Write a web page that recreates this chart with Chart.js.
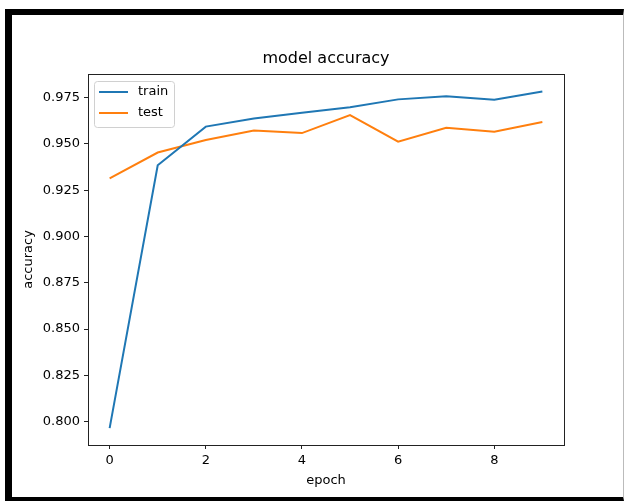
<!DOCTYPE html>
<html>
<head>
<meta charset="utf-8">
<script src="https://cdn.jsdelivr.net/npm/chart.js@4"></script>
<style>
    html, body { margin: 0; padding: 0; background: #fff; width: 625px; height: 501px; overflow: hidden; }
    #frame {
        position: absolute; left: 5px; top: 9px;
        width: 611px; height: 482px;
        border-left: 7px solid #000; border-top: 6px solid #000;
        border-bottom: 4px solid #000; border-right: 1px solid #bbb;
        background: #fff;
    }
    canvas { display: block; }
</style>
</head>
<body>
<div id="frame"><canvas id="chart" width="611" height="482"></canvas></div>
<script>
// values
const epochs = [0, 1, 2, 3, 4, 5, 6, 7, 8, 9];
const trainAcc = [0.7965, 0.9384, 0.9593, 0.9637, 0.9668, 0.9697, 0.9740, 0.9757, 0.9738, 0.9783];
const testAcc = [0.9314, 0.9453, 0.9521, 0.9572, 0.9558, 0.9655, 0.9512, 0.9587, 0.9565, 0.9618];
const xTicks = [0, 2, 4, 6, 8];
const yTicks = [0.800, 0.825, 0.850, 0.875, 0.900, 0.925, 0.950, 0.975];

const FONT = 'DejaVu Sans';

function toPoints(values) {
    return epochs.map((e, i) => ({ x: e, y: values[i] }));
}

// frame, title and legend, drawn like matplotlib does
const mplDecor = {
    id: 'mplDecor',
    afterDraw(chart) {
        const { ctx, chartArea: a } = chart;
        ctx.save();
        ctx.strokeStyle = '#222';
        ctx.lineWidth = 1;
        ctx.strokeRect(Math.round(a.left) + 0.5, Math.round(a.top) + 0.5,
            Math.round(a.right - a.left), Math.round(a.bottom - a.top));

        ctx.fillStyle = '#000';
        ctx.font = '16px "' + FONT + '"';
        ctx.textAlign = 'center';
        ctx.textBaseline = 'alphabetic';
        ctx.fillText('model accuracy', (a.left + a.right) / 2, a.top - 11);

        // legend box
        const bx = a.left + 6, by = a.top + 7, bw = 80, bh = 46;
        ctx.beginPath();
        ctx.roundRect(bx + 0.5, by + 0.5, bw, bh, 3);
        ctx.fillStyle = 'rgba(255,255,255,0.8)';
        ctx.fill();
        ctx.strokeStyle = '#d0d0d0';
        ctx.stroke();

        ctx.font = '13px "' + FONT + '"';
        ctx.textAlign = 'left';
        ctx.textBaseline = 'middle';
        chart.data.datasets.forEach((ds, i) => {
            const y = by + 11 + i * 21;
            ctx.beginPath();
            ctx.moveTo(bx + 5, y);
            ctx.lineTo(bx + 34, y);
            ctx.strokeStyle = ds.borderColor;
            ctx.lineWidth = 2;
            ctx.stroke();
            ctx.fillStyle = '#000';
            ctx.fillText(ds.label, bx + 44, y);
        });
        ctx.restore();
    }
};

new Chart(document.getElementById('chart'), {
    type: 'line',
    data: {
        datasets: [
            { label: 'train', data: toPoints(trainAcc), borderColor: '#1f77b4', borderWidth: 2, pointRadius: 0, tension: 0, fill: false },
            { label: 'test', data: toPoints(testAcc), borderColor: '#ff7f0e', borderWidth: 2, pointRadius: 0, tension: 0, fill: false }
        ]
    },
    options: {
        responsive: false,
        animation: false,
        layout: { padding: { left: 0, top: 59, right: 59, bottom: 0 } },
        plugins: {
            legend: { display: false },
            title: { display: false },
            tooltip: { enabled: false }
        },
        scales: {
            x: {
                type: 'linear',
                min: -0.45,
                max: 9.45,
                afterBuildTicks: s => { s.ticks = xTicks.map(v => ({ value: v })); },
                afterFit: s => { s.height = 52; },
                ticks: { color: '#000', font: { family: FONT, size: 13 }, padding: 4, maxRotation: 0, autoSkip: false },
                grid: { drawOnChartArea: false, drawTicks: true, tickLength: 4, color: '#222' },
                border: { display: false },
                title: { display: true, text: 'epoch', color: '#000', font: { family: FONT, size: 13 }, padding: { top: 0, bottom: 9 } }
            },
            y: {
                type: 'linear',
                min: 0.7874,
                max: 0.9877,
                afterBuildTicks: s => { s.ticks = yTicks.map(v => ({ value: v })); },
                afterFit: s => { s.width = 76; },
                ticks: { color: '#000', font: { family: FONT, size: 13 }, padding: 4, autoSkip: false, callback: v => v.toFixed(3) },
                grid: { drawOnChartArea: false, drawTicks: true, tickLength: 4, color: '#222' },
                border: { display: false },
                title: { display: true, text: 'accuracy', color: '#000', font: { family: FONT, size: 13 }, padding: { top: 9, bottom: 0 } }
            }
        }
    },
    plugins: [mplDecor]
});
</script>
</body>
</html>
